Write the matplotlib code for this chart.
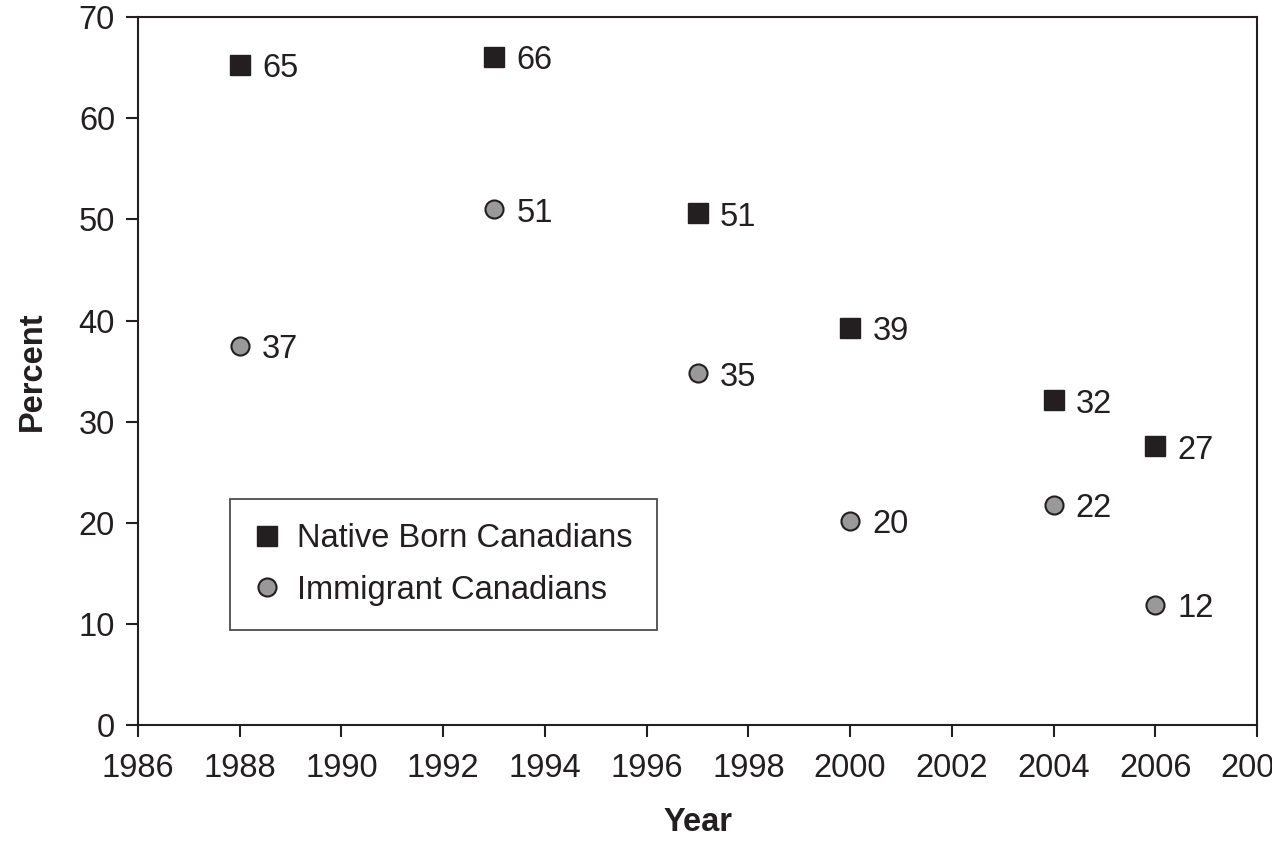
import matplotlib.pyplot as plt

years_native = [1988, 1993, 1997, 2000, 2004, 2006]
native = [65.3, 66.1, 50.6, 39.3, 32.1, 27.6]
native_labels = ["65", "66", "51", "39", "32", "27"]

years_immig = [1988, 1993, 1997, 2000, 2004, 2006]
immig = [37.5, 51.0, 34.8, 20.2, 21.8, 11.9]
immig_labels = ["37", "51", "35", "20", "22", "12"]

ink = "#231f20"
plt.rcParams['font.family'] = ['Liberation Sans', 'DejaVu Sans']
fs = 23.5

fig = plt.figure(figsize=(12.72, 8.57), dpi=100)
ax = fig.add_axes([0.1085, 0.154, 0.8797, 0.826])

ax.plot(years_native, native, linestyle="none", marker="s", markersize=14,
        color=ink, label="Native Born Canadians")
ax.plot(years_immig, immig, linestyle="none", marker="o", markersize=13,
        markerfacecolor="#999999", markeredgecolor=ink, markeredgewidth=1.5,
        label="Immigrant Canadians")

for x, y, t in zip(years_native, native, native_labels):
    ax.annotate(t, (x, y), xytext=(16, -3), textcoords="offset points",
                va="center", ha="left", fontsize=fs, color=ink)
for x, y, t in zip(years_immig, immig, immig_labels):
    ax.annotate(t, (x, y), xytext=(16, -3), textcoords="offset points",
                va="center", ha="left", fontsize=fs, color=ink)

ax.set_xlim(1986, 2008)
ax.set_ylim(0, 70)
ax.set_xticks(range(1986, 2009, 2))
ax.set_yticks(range(0, 71, 10))
ax.tick_params(direction="out", length=8.5, width=1.5, labelsize=fs,
               colors=ink)
ax.tick_params(axis="x", pad=12)
ax.tick_params(axis="y", pad=8)
for s in ax.spines.values():
    s.set_linewidth(1.5)
    s.set_color(ink)

ax.set_xlabel("Year", fontsize=fs, fontweight="bold", color=ink, labelpad=16)
ax.set_ylabel("Percent", fontsize=fs, fontweight="bold", color=ink, labelpad=22)

leg = ax.legend(loc="lower left", bbox_to_anchor=(0.082, 0.134), borderaxespad=0,
                fontsize=fs, fancybox=False, frameon=True, handletextpad=0.5,
                handlelength=0.8, borderpad=0.75, labelspacing=0.62)
leg.get_frame().set_edgecolor(ink)
leg.get_frame().set_linewidth(1.3)
for t in leg.get_texts():
    t.set_color(ink)

fig.savefig("out.png", dpi=100)
